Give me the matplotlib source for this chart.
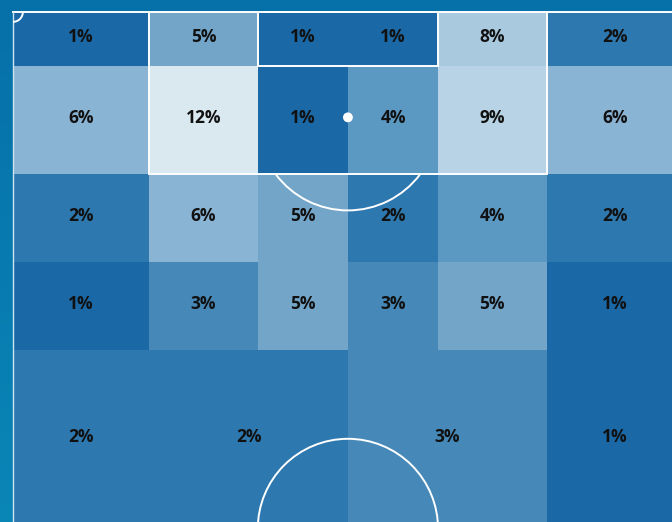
import numpy as np
import matplotlib
matplotlib.use('Agg')
import matplotlib.pyplot as plt
from matplotlib.patches import Rectangle, Circle, Arc
from matplotlib.colors import LinearSegmentedColormap, Normalize

# zone grid (metres, goal line at y=0, pitch 68 wide)
col_edges = [0, 13.84, 24.84, 34, 43.16, 54.16, 68]
row_edges = [0, 5.5, 16.5, 25.4, 34.3, 52.5]

# share of actions per zone (%), rows from the goal line down
row1 = [1, 5, 1, 1, 8, 2]
row2 = [6, 12, 1, 4, 9, 6]
row3 = [2, 6, 5, 2, 4, 2]
row4 = [1, 3, 5, 3, 5, 1]
grid_rows = [row1, row2, row3, row4]

# last band is merged into wider zones: (first col, last col)
band_spans = [(0, 1), (1, 3), (3, 5), (5, 6)]
band_vals = [2, 2, 3, 1]

# colour scale
anchor_vals = [1, 2, 3, 4, 5, 6, 8, 9, 12]
anchor_cols = ['#1a68a6', '#2e78b0', '#4689b8', '#5b98c2', '#73a5c9',
               '#8ab4d3', '#a9c9df', '#b8d3e5', '#dae8f0']
norm = Normalize(vmin=1, vmax=12)
cmap = LinearSegmentedColormap.from_list(
    'zones', list(zip([norm(v) for v in anchor_vals], anchor_cols)))

fig = plt.figure(figsize=(6.72, 5.22), dpi=100)
ax = fig.add_axes([0, 0, 1, 1])
ax.set_xlim(-1.32, 66.9)
ax.set_ylim(51.8, -1.22)
ax.axis('off')

# background gradient
bg = LinearSegmentedColormap.from_list('bg', ['#0670a8', '#0a88b8'])
grad = np.linspace(0, 1, 256).reshape(-1, 1) * np.linspace(0.6, 1, 256).reshape(1, -1) ** 0.2
ax.imshow(grad, cmap=bg, extent=(-1.32, 66.9, 51.8, -1.22), aspect='auto', zorder=0)

font = dict(family=['Open Sans', 'DejaVu Sans'], weight='bold', fontsize=12.5, color='#111111')


def zone(x0, x1, y0, y1, v):
    ax.add_patch(Rectangle((x0, y0), x1 - x0, y1 - y0, facecolor=cmap(norm(v)),
                           edgecolor='none', zorder=1))
    ax.text((x0 + x1) / 2, (y0 + y1) / 2 - 0.2, f'{v}%', ha='center', va='center',
            zorder=5, **font)


for r, vals in enumerate(grid_rows):
    for c, v in enumerate(vals):
        zone(col_edges[c], col_edges[c + 1], row_edges[r], row_edges[r + 1], v)

for (c0, c1), v in zip(band_spans, band_vals):
    zone(col_edges[c0], col_edges[c1], row_edges[4], row_edges[5], v)

# pitch markings
lw = 1.4
lc = 'white'
ax.plot([0, 68], [0, 0], color=lc, lw=lw, zorder=3)
ax.plot([0, 0], [0, 52.5], color='#cfe3f0', lw=1.0, zorder=3)
ax.add_patch(Rectangle((13.84, 0), 40.32, 16.5, fill=False, edgecolor=lc, lw=lw, zorder=3))
ax.add_patch(Rectangle((24.84, 0), 18.32, 5.5, fill=False, edgecolor=lc, lw=lw, zorder=3))
ax.add_patch(Arc((34, 11), 18.3, 18.3, theta1=36.9, theta2=143.1, edgecolor=lc, lw=lw, zorder=3))
ax.add_patch(Circle((34, 52.5), 9.15, fill=False, edgecolor=lc, lw=lw, zorder=3))
ax.add_patch(Arc((0, 0), 2, 2, theta1=0, theta2=90, edgecolor=lc, lw=lw, zorder=3))
ax.add_patch(Circle((34, 10.7), 0.5, facecolor=lc, edgecolor='none', zorder=4))

fig.savefig('out.png', dpi=100)
